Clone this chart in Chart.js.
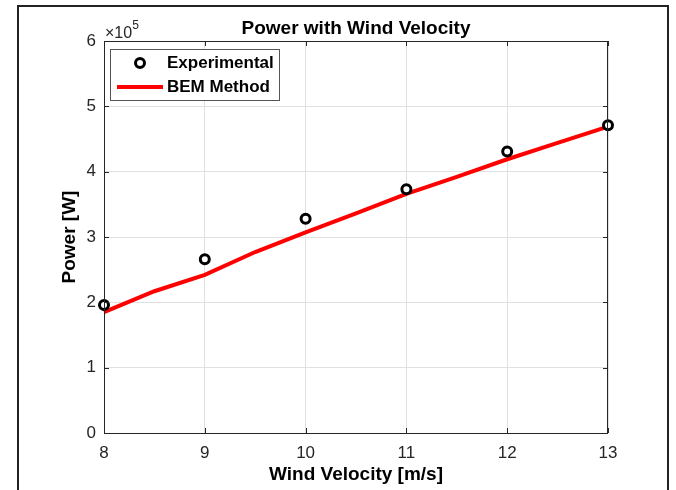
<!DOCTYPE html>
<html>
<head>
<meta charset="utf-8">
<script src="https://cdn.jsdelivr.net/npm/chart.js@4.4.1/dist/chart.umd.min.js"></script>
<style>
  body { margin: 0; background: #fff; overflow: hidden; }
  #wrap { position: relative; width: 676px; height: 490px; }
  #frame { position: absolute; left: 17px; top: 5px; width: 648px; height: 520px; border: 2px solid #222; pointer-events: none; }
</style>
</head>
<body>
<div id="wrap">
  <canvas id="powerChart" width="676" height="490"></canvas>
  <div id="frame"></div>
</div>
<script>
// wind velocity [m/s] where power was measured
let velocity = [8, 9, 10, 11, 12, 13];
let experimental = [196000, 266000, 328000, 373000, 431000, 471000];

// BEM curve, sampled every 0.5 m/s
let bemVelocity = [8, 8.5, 9, 9.5, 10, 10.5, 11, 11.5, 12, 12.5, 13];
let bemPower = [185000, 217000, 242000, 277000, 307000, 336000, 366000, 392000, 419000, 444000, 469000];

let xTicks = [8, 9, 10, 11, 12, 13];
let yTicks = [0, 100000, 200000, 300000, 400000, 500000, 600000];

const FONT = "Arial, 'Liberation Sans', Helvetica, sans-serif";

// MATLAB style: box, inward ticks, x10^5 exponent, legend inside
const matlabBox = {
    id: "matlabBox",
    afterDraw(chart) {
        let ctx = chart.ctx;
        let a = chart.chartArea;
        let xs = chart.scales.x;
        let ys = chart.scales.y;
        ctx.save();
        ctx.strokeStyle = "#262626";
        ctx.lineWidth = 1;
        ctx.strokeRect(a.left + 0.5, a.top + 0.5, a.right - a.left - 1, a.bottom - a.top);
        ctx.beginPath();
        xTicks.forEach(v => {
            let px = Math.round(xs.getPixelForValue(v)) + 0.5;
            ctx.moveTo(px, a.bottom); ctx.lineTo(px, a.bottom - 5);
            ctx.moveTo(px, a.top); ctx.lineTo(px, a.top + 5);
        });
        yTicks.forEach(v => {
            let py = Math.round(ys.getPixelForValue(v)) + 0.5;
            ctx.moveTo(a.left, py); ctx.lineTo(a.left + 5, py);
            ctx.moveTo(a.right, py); ctx.lineTo(a.right - 5, py);
        });
        ctx.stroke();

        // exponent label
        ctx.fillStyle = "#262626";
        ctx.textBaseline = "alphabetic";
        ctx.textAlign = "left";
        ctx.font = "16px " + FONT;
        ctx.fillText("\u00d710", a.left + 1, a.top - 3);
        let w = ctx.measureText("\u00d710").width;
        ctx.font = "12px " + FONT;
        ctx.fillText("5", a.left + 1 + w, a.top - 12);

        // legend
        let lx = a.left + 6, ly = a.top + 8, lw = 169, lh = 51;
        ctx.fillStyle = "#fff";
        ctx.fillRect(lx, ly, lw, lh);
        ctx.strokeStyle = "#555";
        ctx.strokeRect(lx + 0.5, ly + 0.5, lw, lh);

        ctx.beginPath();
        ctx.arc(lx + 30, ly + 14, 4.5, 0, Math.PI * 2);
        ctx.lineWidth = 3;
        ctx.strokeStyle = "#000";
        ctx.stroke();

        ctx.beginPath();
        ctx.moveTo(lx + 7, ly + 38);
        ctx.lineTo(lx + 53, ly + 38);
        ctx.lineWidth = 4;
        ctx.strokeStyle = "#ff0000";
        ctx.stroke();

        ctx.fillStyle = "#000";
        ctx.font = "bold 17px " + FONT;
        ctx.textBaseline = "middle";
        ctx.fillText("Experimental", lx + 57, ly + 14);
        ctx.fillText("BEM Method", lx + 57, ly + 38);
        ctx.restore();
    }
};

let ctx = document.getElementById("powerChart").getContext("2d");

let chart = new Chart(ctx, {
    type: "scatter",
    data: {
        datasets: [{
            label: "Experimental",
            data: velocity.map((v, i) => ({ x: v, y: experimental[i] })),
            showLine: false,
            pointStyle: "circle",
            pointRadius: 4.5,
            pointHoverRadius: 4.5,
            pointBorderWidth: 3,
            borderColor: "#000",
            backgroundColor: "#fff",
            clip: false
        }, {
            label: "BEM Method",
            type: "line",
            data: bemVelocity.map((v, i) => ({ x: v, y: bemPower[i] })),
            borderColor: "#ff0000",
            borderWidth: 4,
            pointRadius: 0,
            tension: 0,
            fill: false,
            clip: false
        }]
    },
    options: {
        responsive: false,
        animation: false,
        layout: { padding: { left: 0, right: 68, top: 0, bottom: 0 } },
        plugins: {
            legend: { display: false },
            tooltip: { enabled: false },
            title: {
                display: true,
                text: "Power with Wind Velocity",
                color: "#000",
                fullSize: false,
                font: { family: FONT, size: 19, weight: "bold", lineHeight: 1.2 },
                padding: { top: 17, bottom: 1.2 }
            }
        },
        scales: {
            x: {
                type: "linear",
                min: 8,
                max: 13,
                afterFit(scale) { scale.height = 57; },
                afterBuildTicks(scale) { scale.ticks = xTicks.map(v => ({ value: v })); },
                ticks: {
                    color: "#262626",
                    font: { family: FONT, size: 17 },
                    padding: 10
                },
                grid: { color: "#e0e0e0", drawTicks: false },
                border: { display: false },
                title: {
                    display: true,
                    text: "Wind Velocity [m/s]",
                    color: "#000",
                    font: { family: FONT, size: 19, weight: "bold", lineHeight: 1.2 },
                    padding: { top: 0, bottom: 3.6 }
                }
            },
            y: {
                min: 0,
                max: 600000,
                afterFit(scale) { scale.width = 104; },
                afterBuildTicks(scale) { scale.ticks = yTicks.map(v => ({ value: v })); },
                ticks: {
                    color: "#262626",
                    font: { family: FONT, size: 17 },
                    padding: 8,
                    callback: v => v / 100000
                },
                grid: { color: "#e0e0e0", drawTicks: false },
                border: { display: false },
                title: {
                    display: true,
                    text: "Power [W]",
                    color: "#000",
                    font: { family: FONT, size: 19, weight: "bold", lineHeight: 1.2 },
                    padding: { top: 58, bottom: 0 }
                }
            }
        }
    },
    plugins: [matlabBox]
});
</script>
</body>
</html>
